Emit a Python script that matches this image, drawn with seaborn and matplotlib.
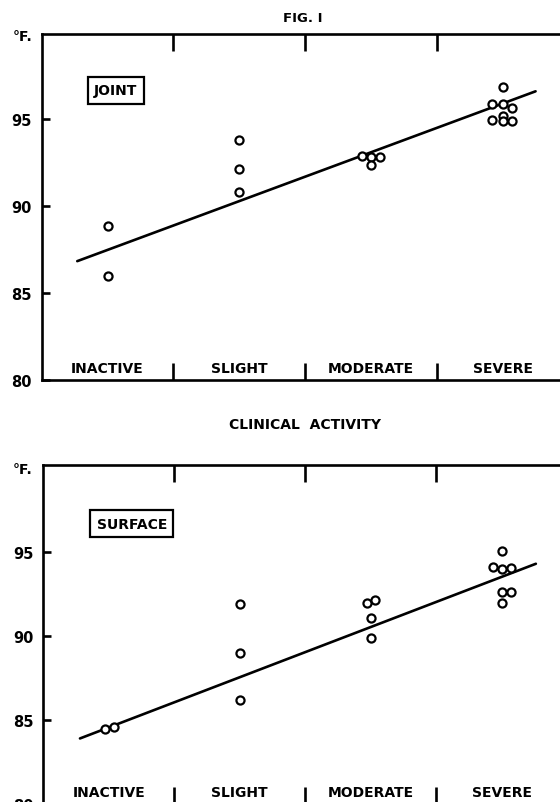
import matplotlib
matplotlib.use("Agg")
from matplotlib import pyplot as plt
from matplotlib import transforms
import numpy as np
import pandas as pd
import seaborn as sns

# clinical activity categories
categories = ["INACTIVE", "SLIGHT", "MODERATE", "SEVERE"]

# joint temperatures (deg F), category index + small horizontal spread
joint_cat = [0, 0, 1, 1, 1, 2, 2, 2, 2, 3, 3, 3, 3, 3, 3, 3, 3]
joint_spread = [0, 0, 0, 0, 0, -0.07, 0, 0.07, 0, 0, -0.08, 0, 0.07, 0, -0.08, 0, 0.07]
joint_temp = [88.86, 86.0, 93.78, 92.14, 90.78, 92.90, 92.81, 92.79, 92.33,
              96.85, 95.86, 95.86, 95.65, 95.19, 94.92, 94.88, 94.86]
joint_fit_x = [0.27, 3.75]
joint_fit_y = [86.83, 96.59]

# surface temperatures (deg F)
surface_cat = [0, 0, 1, 1, 1, 2, 2, 2, 2, 3, 3, 3, 3, 3, 3, 3]
surface_spread = [-0.03, 0.04, 0, 0, 0, -0.03, 0.035, 0, 0, 0, -0.07, 0, 0.07, 0, 0.07, 0]
surface_temp = [84.48, 84.63, 91.92, 89.02, 86.2, 92.0, 92.18, 91.07, 89.93,
                95.1, 94.11, 94.03, 94.05, 92.65, 92.65, 91.96]
surface_fit_x = [0.28, 3.76]
surface_fit_y = [83.92, 94.32]

yticks = [80, 85, 90, 95]

sns.set_theme(style="white")
plt.rcParams["font.family"] = ["DejaVu Sans"]
plt.rcParams["font.weight"] = "bold"
plt.rcParams["text.color"] = "black"
plt.rcParams["xtick.color"] = "black"
plt.rcParams["ytick.color"] = "black"

fig = plt.figure(figsize=(5.6, 8.03), dpi=100)
ax1 = fig.add_axes([41.7 / 560, 1 - 381 / 803, 1 - 41.7 / 560, (381 - 34.7) / 803])
ax2 = fig.add_axes([43.3 / 560, 1 - 805.3 / 803, 1 - 43.3 / 560, (805.3 - 466) / 803])


def draw_panel(ax, cat, spread, temp, fit_x, fit_y, label, label_xy, xmax, ylim):
    df = pd.DataFrame({"x": np.array(cat) + 0.5 + np.array(spread), "temp": temp})
    sns.lineplot(x=fit_x, y=fit_y, ax=ax, color="black", linewidth=1.9)
    sns.scatterplot(data=df, x="x", y="temp", ax=ax, s=34, marker="o",
                    facecolor="white", edgecolor="black", linewidth=1.6,
                    zorder=3)
    ax.set_xlim(0, xmax)
    ax.set_ylim(*ylim)
    ax.set_xlabel("")
    ax.set_ylabel("")
    for side in ["top", "left", "bottom"]:
        ax.spines[side].set_visible(True)
        ax.spines[side].set_color("black")
        ax.spines[side].set_linewidth(1.9)
    ax.spines["right"].set_visible(False)

    ax.set_yticks(yticks)
    ax.set_yticklabels([str(t) for t in yticks], fontsize=10.5, fontweight="bold")
    ax.tick_params(axis="y", direction="in", length=6, width=1.9, pad=7,
                   left=True, colors="black")
    ax.set_xticks([1, 2, 3])
    ax.tick_params(axis="x", direction="in", length=12.5, width=1.9,
                   top=True, bottom=True, labelbottom=False, colors="black")

    trans = transforms.blended_transform_factory(ax.transData, ax.transAxes)
    for i, name in enumerate(categories):
        ax.text(i + 0.5, 0.036, name, transform=trans, ha="center",
                va="center", fontsize=10, fontweight="bold", color="black")

    ax.text(label_xy[0], label_xy[1], label, ha="center", va="center",
            fontsize=10, fontweight="bold", color="black",
            bbox=dict(boxstyle="square,pad=0.45", facecolor="white",
                      edgecolor="black", linewidth=1.6))


draw_panel(ax1, joint_cat, joint_spread, joint_temp, joint_fit_x, joint_fit_y,
           "JOINT", (0.564, 96.64), (560 - 41.7) / 131.7, (80, 99.9))
draw_panel(ax2, surface_cat, surface_spread, surface_temp, surface_fit_x,
           surface_fit_y, "SURFACE", (0.675, 96.71), (560 - 43.3) / 131,
           (80, 100.2))

fig.text(33 / 560, 1 - 37 / 803, "°F.", ha="right", va="center",
         fontsize=10, fontweight="bold")
fig.text(33 / 560, 1 - 470 / 803, "°F.", ha="right", va="center",
         fontsize=10, fontweight="bold")
fig.text(303 / 560, 1 - 19 / 803, "FIG. I", ha="center", va="center",
         fontsize=9.5, fontweight="bold")
fig.text(305 / 560, 1 - 425 / 803, "CLINICAL  ACTIVITY", ha="center",
         va="center", fontsize=10, fontweight="bold")

fig.savefig("out.png", dpi=100, facecolor="white")
